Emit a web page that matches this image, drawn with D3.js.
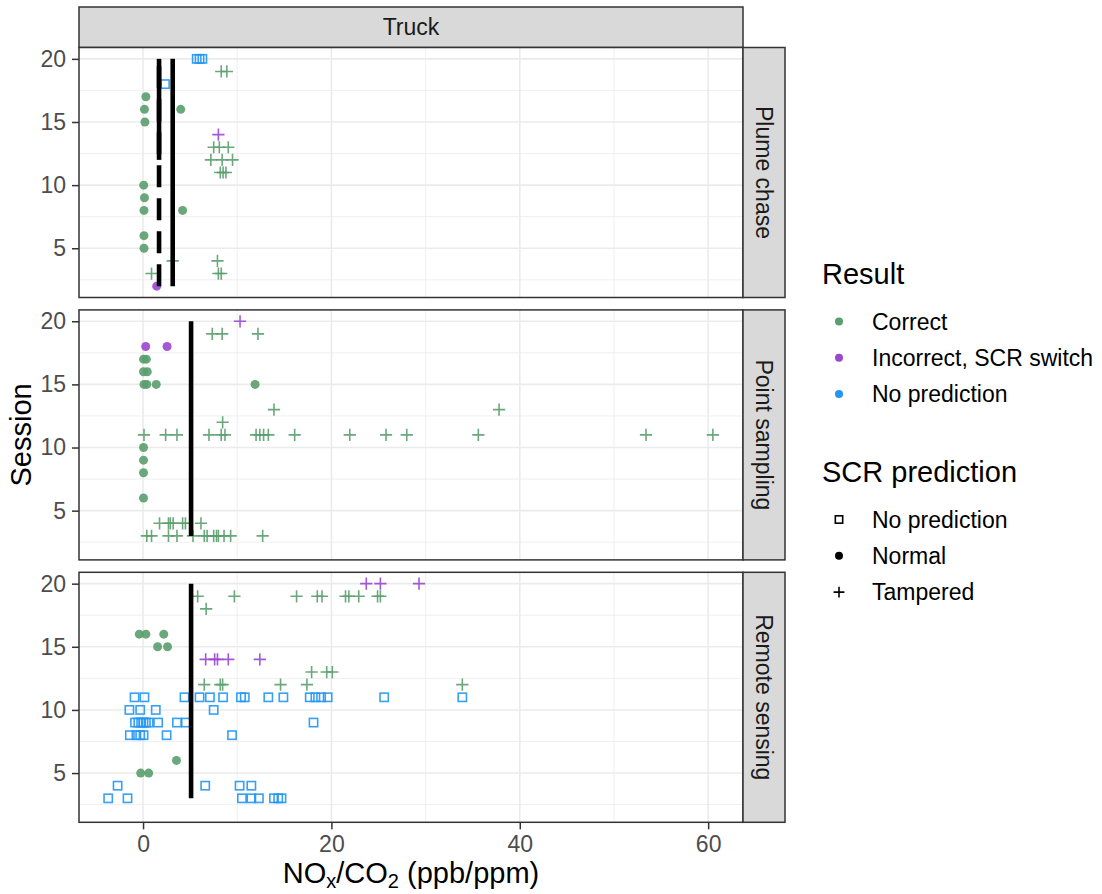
<!DOCTYPE html>
<meta charset="utf-8">
<style type="text/css">

body {
  margin: 0;
  background: #fff;
}

svg {
  font-family: "Liberation Sans", Arial, Helvetica, sans-serif;
}

.grid-major {
  stroke: #ebebeb;
  stroke-width: 1.6px;
}

.grid-minor {
  stroke: #ebebeb;
  stroke-width: 0.8px;
}

.panel-border,
.strip {
  fill: none;
  stroke: #333333;
  stroke-width: 1.5px;
}

.strip {
  fill: #d9d9d9;
}

.axis .domain {
  display: none;
}

.axis line {
  stroke: #333333;
  stroke-width: 1.5px;
}

.axis text {
  font-size: 23px;
  fill: #4d4d4d;
  font-family: "Liberation Sans", Arial, Helvetica, sans-serif;
}

</style>
<body>

<div id="chart"></div>

<script src="https://d3js.org/d3.v7.min.js"></script>
<script>
var width = 1102,
    height = 894;

// facets and legend categories
var methods = ['Plume chase', 'Point sampling', 'Remote sensing'];
var results = ['Correct', 'Incorrect, SCR switch', 'No prediction'];
var resultColors = ['#5a9e6e', '#9a46d2', '#2196f3'];
var predictions = ['No prediction', 'Normal', 'Tampered'];

var xTicks = [0, 20, 40, 60];
var xMinor = [10, 30, 50];
var yTicks = [5, 10, 15, 20];
var yMinor = [2.5, 7.5, 12.5, 17.5];

// [NOx/CO2, session]
var plumeCorrectNormal = [[0.3, 17], [0.15, 16], [4.0, 16], [0.2, 15], [0.07, 10], [0.15, 9],
  [0.1, 8], [4.2, 8], [0.1, 6], [0.1, 5]];
var plumeCorrectTampered = [[8.3, 19], [8.9, 19], [7.5, 13], [8.1, 13], [9.05, 13], [7.2, 12],
  [8.4, 12], [9.5, 12], [8.2, 11], [8.5, 11], [8.8, 11], [3.15, 4], [7.9, 4], [0.9, 3], [8.0, 3], [8.3, 3]];
var plumeIncorrectNormal = [[1.45, 2]];
var plumeIncorrectTampered = [[8.0, 14]];
var plumeNoPrediction = [[5.7, 20], [6.0, 20], [6.3, 20], [2.33, 18]];

var pointCorrectNormal = [[0.05, 17], [0.35, 17], [0.05, 16], [0.45, 16], [0.1, 15], [0.4, 15],
  [1.4, 15], [11.9, 15], [0.05, 10], [0.05, 9], [0.05, 8], [0.05, 6]];
var pointCorrectTampered = [[7.35, 19], [8.4, 19], [12.2, 19], [13.9, 13], [37.8, 13], [8.45, 12],
  [0.1, 11], [2.4, 11], [3.6, 11], [7.0, 11], [8.3, 11], [8.7, 11], [12.0, 11], [12.4, 11], [12.8, 11],
  [13.3, 11], [16.1, 11], [21.95, 11], [25.8, 11], [28.0, 11], [35.6, 11], [53.4, 11], [60.5, 11],
  [1.75, 4], [2.7, 4], [2.9, 4], [3.2, 4], [4.2, 4], [4.5, 4], [6.15, 4],
  [0.4, 3], [0.9, 3], [2.7, 3], [3.6, 3], [5.3, 3], [6.5, 3], [6.8, 3], [7.5, 3], [7.8, 3], [8.0, 3],
  [8.6, 3], [9.3, 3], [12.7, 3]];
var pointIncorrectNormal = [[0.28, 18], [2.55, 18]];
var pointIncorrectTampered = [[10.3, 20]];

var remoteCorrectNormal = [[-0.4, 16], [0.3, 16], [2.2, 16], [1.55, 15], [2.6, 15], [3.55, 6],
  [-0.25, 5], [0.6, 5]];
var remoteCorrectTampered = [[5.8, 19], [9.7, 19], [16.3, 19], [18.5, 19], [19.0, 19], [21.5, 19],
  [21.85, 19], [22.9, 19], [24.9, 19], [25.2, 19], [6.7, 18], [17.9, 13], [19.5, 13], [20.1, 13],
  [6.5, 12], [8.2, 12], [8.45, 12], [14.6, 12], [17.4, 12], [33.9, 12]];
var remoteIncorrectTampered = [[23.7, 20], [25.2, 20], [29.3, 20], [6.65, 14], [7.6, 14], [7.9, 14],
  [9.05, 14], [12.4, 14]];
var remoteNoPrediction = [[-0.9, 11], [0.15, 11], [4.4, 11], [6.0, 11], [7.1, 11], [8.5, 11],
  [10.4, 11], [10.8, 11], [13.3, 11], [14.9, 11], [17.7, 11], [18.3, 11], [18.9, 11], [19.6, 11],
  [25.6, 11], [33.9, 11],
  [-1.45, 10], [-0.3, 10], [1.35, 10], [7.5, 10],
  [-0.85, 9], [-0.5, 9], [-0.2, 9], [0.05, 9], [0.3, 9], [0.6, 9], [1.6, 9], [3.6, 9], [4.55, 9], [18.1, 9],
  [-1.4, 8], [-0.7, 8], [-0.3, 8], [0.05, 8], [2.5, 8], [9.45, 8],
  [-2.7, 4], [6.6, 4], [10.25, 4], [11.5, 4],
  [-3.7, 3], [-1.65, 3], [10.5, 3], [11.5, 3], [12.3, 3], [13.9, 3], [14.35, 3], [14.7, 3]];

var groups = [
  {method: 'Plume chase', result: 'Correct', prediction: 'Normal', values: plumeCorrectNormal},
  {method: 'Plume chase', result: 'Correct', prediction: 'Tampered', values: plumeCorrectTampered},
  {method: 'Plume chase', result: 'Incorrect, SCR switch', prediction: 'Normal', values: plumeIncorrectNormal},
  {method: 'Plume chase', result: 'Incorrect, SCR switch', prediction: 'Tampered', values: plumeIncorrectTampered},
  {method: 'Plume chase', result: 'No prediction', prediction: 'No prediction', values: plumeNoPrediction},
  {method: 'Point sampling', result: 'Correct', prediction: 'Normal', values: pointCorrectNormal},
  {method: 'Point sampling', result: 'Correct', prediction: 'Tampered', values: pointCorrectTampered},
  {method: 'Point sampling', result: 'Incorrect, SCR switch', prediction: 'Normal', values: pointIncorrectNormal},
  {method: 'Point sampling', result: 'Incorrect, SCR switch', prediction: 'Tampered', values: pointIncorrectTampered},
  {method: 'Remote sensing', result: 'Correct', prediction: 'Normal', values: remoteCorrectNormal},
  {method: 'Remote sensing', result: 'Correct', prediction: 'Tampered', values: remoteCorrectTampered},
  {method: 'Remote sensing', result: 'Incorrect, SCR switch', prediction: 'Tampered', values: remoteIncorrectTampered},
  {method: 'Remote sensing', result: 'No prediction', prediction: 'No prediction', values: remoteNoPrediction}
];

// threshold segments per facet
var thresholdMethod = ['Plume chase', 'Plume chase', 'Plume chase', 'Point sampling', 'Remote sensing'];
var thresholdValue = [1.7, 1.7, 3.15, 5.1, 5.1];
var thresholdFrom = [2, 12, 2, 3, 3];
var thresholdTo = [20, 20, 20, 20, 20];
var thresholdType = ['dashed', 'solid', 'solid', 'solid', 'solid'];

var points = [];
groups.forEach(function(g) {
  g.values.forEach(function(v) {
    points.push({method: g.method, result: g.result, prediction: g.prediction, x: v[0], session: v[1]});
  });
});

var thresholds = thresholdMethod.map(function(m, i) {
  return {method: m, x: thresholdValue[i], from: thresholdFrom[i], to: thresholdTo[i], type: thresholdType[i]};
});

// layout
var left = 79, panelW = 664, panelH = 250, top0 = 47.5, gap = 12.4;
var stripH = 40.5, stripW = 42;

var x = d3.scaleLinear().domain([-6.8, 63.7]).range([0, panelW]);
var y = d3.scaleLinear().domain([1.1, 20.9]).range([panelH, 0]);
var color = d3.scaleOrdinal().domain(results).range(resultColors);

var svg = d3.select('#chart').append('svg')
    .attr('width', width)
    .attr('height', height);

// draw one marker in a selection
function drawShape(sel, shape, col, size) {
  if (shape === 'Normal') {
    sel.append('circle').attr('r', size * 0.5).attr('fill', col);
  } else if (shape === 'No prediction') {
    var s = size * 0.92;
    sel.append('rect')
        .attr('x', -s / 2).attr('y', -s / 2)
        .attr('width', s).attr('height', s)
        .attr('fill', 'none')
        .attr('stroke', col)
        .attr('stroke-width', 1.6);
  } else {
    var h = size * 0.68;
    sel.append('path')
        .attr('d', 'M' + (-h) + ',0H' + h + 'M0,' + (-h) + 'V' + h)
        .attr('fill', 'none')
        .attr('stroke', col)
        .attr('stroke-width', 1.6);
  }
}

// top strip
svg.append('rect')
    .attr('class', 'strip')
    .attr('x', left).attr('y', top0 - stripH)
    .attr('width', panelW).attr('height', stripH);

svg.append('text')
    .attr('x', left + panelW / 2)
    .attr('y', top0 - stripH / 2)
    .attr('dy', '0.35em')
    .attr('text-anchor', 'middle')
    .style('font-size', '23px')
    .style('fill', '#1a1a1a')
    .text('Truck');

methods.forEach(function(method, i) {
  var top = top0 + i * (panelH + gap);
  var g = svg.append('g').attr('transform', 'translate(' + left + ',' + top + ')');

  g.append('rect').attr('width', panelW).attr('height', panelH).attr('fill', '#fff');

  g.selectAll('.gx-minor').data(xMinor).enter().append('line')
      .attr('class', 'grid-minor')
      .attr('x1', x).attr('x2', x).attr('y1', 0).attr('y2', panelH);
  g.selectAll('.gy-minor').data(yMinor).enter().append('line')
      .attr('class', 'grid-minor')
      .attr('y1', y).attr('y2', y).attr('x1', 0).attr('x2', panelW);
  g.selectAll('.gx-major').data(xTicks).enter().append('line')
      .attr('class', 'grid-major')
      .attr('x1', x).attr('x2', x).attr('y1', 0).attr('y2', panelH);
  g.selectAll('.gy-major').data(yTicks).enter().append('line')
      .attr('class', 'grid-major')
      .attr('y1', y).attr('y2', y).attr('x1', 0).attr('x2', panelW);

  // points
  var pts = points.filter(function(p) { return p.method === method; });
  g.selectAll('.pt').data(pts).enter().append('g')
      .attr('class', 'pt')
      .attr('transform', function(d) { return 'translate(' + x(d.x) + ',' + y(d.session) + ')'; })
      .attr('opacity', 0.9)
      .each(function(d) {
        drawShape(d3.select(this), d.prediction, color(d.result), 9);
      });

  // thresholds
  var th = thresholds.filter(function(t) { return t.method === method; });
  g.selectAll('.th').data(th).enter().append('line')
      .attr('class', 'th')
      .attr('x1', function(d) { return x(d.x); })
      .attr('x2', function(d) { return x(d.x); })
      .attr('y1', function(d) { return y(d.from); })
      .attr('y2', function(d) { return y(d.to); })
      .attr('stroke', '#000')
      .attr('stroke-width', 4.6)
      .attr('stroke-dasharray', function(d) { return d.type === 'dashed' ? '22,11' : null; });

  g.append('rect').attr('class', 'panel-border').attr('width', panelW).attr('height', panelH);

  // y axis
  g.append('g')
      .attr('class', 'axis')
      .call(d3.axisLeft(y).tickValues(yTicks).tickSize(7).tickPadding(6));

  if (i === methods.length - 1) {
    g.append('g')
        .attr('class', 'axis')
        .attr('transform', 'translate(0,' + panelH + ')')
        .call(d3.axisBottom(x).tickValues(xTicks).tickSize(7).tickPadding(6));
  }

  // right strip
  g.append('rect')
      .attr('class', 'strip')
      .attr('x', panelW).attr('y', 0)
      .attr('width', stripW).attr('height', panelH);

  g.append('text')
      .attr('transform', 'translate(' + (panelW + stripW / 2) + ',' + (panelH / 2) + ') rotate(90)')
      .attr('dy', '0.35em')
      .attr('text-anchor', 'middle')
      .style('font-size', '23px')
      .style('fill', '#1a1a1a')
      .text(method);
});

// axis titles
var bottom = top0 + methods.length * panelH + (methods.length - 1) * gap;

var xTitle = svg.append('text')
    .attr('x', left + panelW / 2)
    .attr('y', 883)
    .attr('text-anchor', 'middle')
    .style('font-size', '29px');
xTitle.append('tspan').text('NO');
xTitle.append('tspan').attr('dy', 5).style('font-size', '20px').text('x');
xTitle.append('tspan').attr('dy', -5).text('/CO');
xTitle.append('tspan').attr('dy', 5).style('font-size', '20px').text('2');
xTitle.append('tspan').attr('dy', -5).text(' (ppb/ppm)');

svg.append('text')
    .attr('transform', 'translate(31,' + ((top0 + bottom) / 2) + ') rotate(-90)')
    .attr('text-anchor', 'middle')
    .style('font-size', '29px')
    .text('Session');

// legends
var legX = 822, keyX = 839, labelX = 872, rowH = 36.3;

function legend(title, titleY, labels, shapeOf, colorOf) {
  svg.append('text')
      .attr('x', legX).attr('y', titleY)
      .style('font-size', '29px')
      .text(title);

  var rows = svg.selectAll(null).data(labels).enter().append('g')
      .attr('transform', function(d, i) { return 'translate(0,' + (titleY + 37.5 + i * rowH) + ')'; });

  rows.each(function(d) {
    var k = d3.select(this).append('g').attr('transform', 'translate(' + keyX + ',0)');
    drawShape(k, shapeOf(d), colorOf(d), 8);
  });

  rows.append('text')
      .attr('x', labelX)
      .attr('dy', '0.36em')
      .style('font-size', '23px')
      .text(function(d) { return d; });
}

legend('Result', 284, results, function() { return 'Normal'; }, function(d) { return color(d); });
legend('SCR prediction', 482, predictions, function(d) { return d; }, function() { return '#000'; });
</script>
